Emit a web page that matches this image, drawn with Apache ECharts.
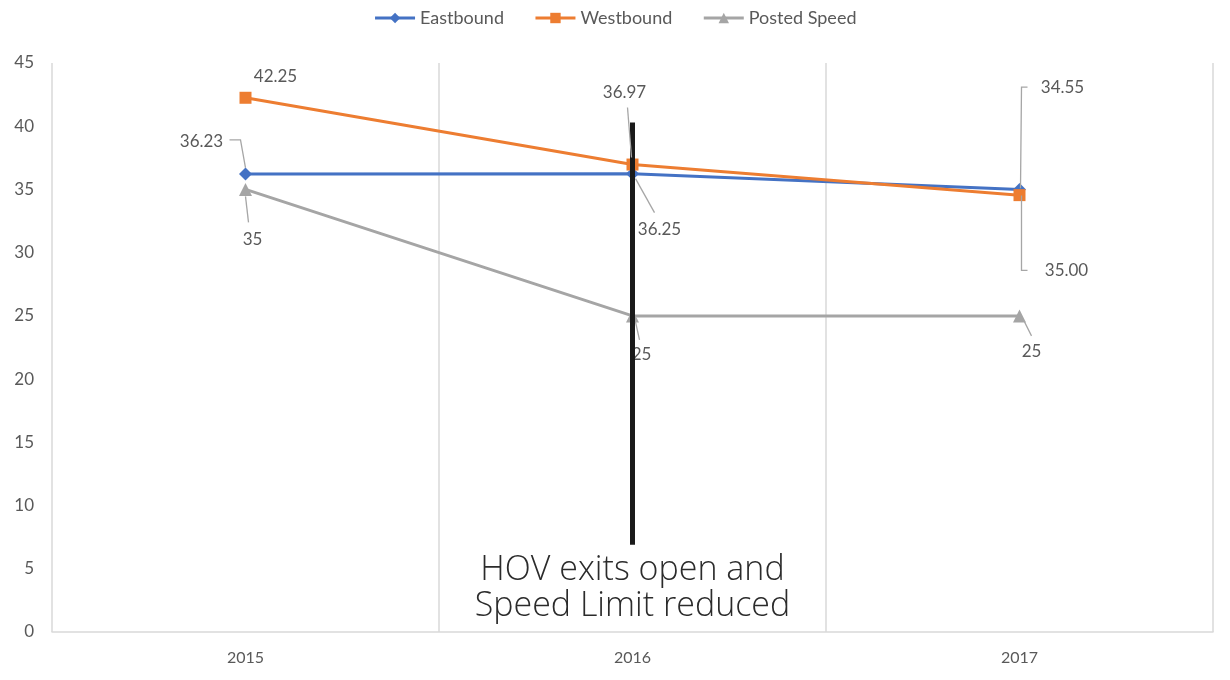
<!DOCTYPE html>
<html>
<head>
<meta charset="utf-8">
<script src="https://cdn.jsdelivr.net/npm/echarts@6/dist/echarts.min.js"></script>
<style>
  html, body { margin: 0; padding: 0; background: #fff; }
  #chart { width: 1230px; height: 680px; }
</style>
</head>
<body>
<div id="chart"></div>
<script>
// Average speeds by year and direction, with the posted speed limit
const years = ['2015', '2016', '2017'];
const eastbound = [36.23, 36.25, 35.00];
const westbound = [42.25, 36.97, 34.55];
const postedSpeed = [35, 25, 25];
const yTicks = { min: 0, max: 45, interval: 5 };

// Event marker: vertical bar at 2016 and its caption
const eventYear = '2016';
const eventSpan = [40.3, 6.9];
const eventText = 'HOV exits open and\nSpeed Limit reduced';

// Label displacement from each point (pixels)
const eastOffsets = [[-44, -32], [27, 56], [47, 81]];
const westOffsets = [[30, -21], [-8, -72], [43, -108]];
const postedOffsets = [[7, 50], [9, 39], [12, 36]];

// Leader-line paths, as pixel steps relative to each point (empty = no leader)
const eastLeaders = [
  [[-16, -34], [-5, -34], [0, -6]],
  [[3, 5], [22, 39]],
  [[2, 6], [2, 81], [8, 81]]
];
const westLeaders = [
  [],
  [[-5, -57], [-1, -7]],
  [[8, -108], [2, -108], [1, -7]]
];
const postedLeaders = [
  [[3, 33], [0, 7]],
  [[3, 6], [7, 24]],
  [[5, 6], [12, 20]]
];

const labelColor = '#595959';
const fontFamily = 'Lato, "Open Sans", sans-serif';

function buildData(values, offsets, decimals) {
  return values.map((v, i) => ({
    value: v,
    label: {
      show: true,
      position: 'inside',
      offset: [offsets[i][0], offsets[i][1]],
      formatter: () => decimals ? v.toFixed(decimals) : String(v),
      color: labelColor,
      fontSize: 17,
      fontFamily: fontFamily
    }
  }));
}

function lineSeries(name, values, offsets, decimals, color, symbol, size) {
  return {
    name: name,
    type: 'line',
    data: buildData(values, offsets, decimals),
    symbol: symbol,
    symbolSize: size,
    showSymbol: true,
    lineStyle: { color: color, width: 3 },
    itemStyle: { color: color },
    emphasis: { disabled: true },
    animation: false,
    z: 2
  };
}

const chart = echarts.init(document.getElementById('chart'), null, { renderer: 'canvas' });

chart.setOption({
  backgroundColor: '#ffffff',
  animation: false,
  legend: {
    data: ['Eastbound', 'Westbound', 'Posted Speed'],
    top: 4,
    left: 'center',
    itemWidth: 40,
    itemHeight: 13,
    itemGap: 30,
    lineStyle: { width: 3 },
    textStyle: { color: labelColor, fontSize: 18, fontFamily: fontFamily }
  },
  grid: { left: 52, right: 17, top: 63, bottom: 48 },
  xAxis: {
    type: 'category',
    data: years,
    boundaryGap: true,
    axisLine: { show: true, lineStyle: { color: '#d9d9d9', width: 1.5 } },
    axisTick: { show: false },
    splitLine: { show: true, lineStyle: { color: '#d9d9d9', width: 1.5 } },
    axisLabel: {
      color: labelColor,
      fontSize: 16,
      fontFamily: fontFamily,
      margin: 18
    }
  },
  yAxis: {
    type: 'value',
    min: yTicks.min,
    max: yTicks.max,
    interval: yTicks.interval,
    axisLine: { show: false },
    axisTick: { show: false },
    splitLine: { show: false },
    axisLabel: {
      color: labelColor,
      fontSize: 17,
      fontFamily: fontFamily,
      margin: 18
    }
  },
  series: [
    lineSeries('Eastbound', eastbound, eastOffsets, 2, '#4472c4', 'diamond', 13),
    lineSeries('Westbound', westbound, westOffsets, 2, '#ed7d31', 'rect', 12),
    lineSeries('Posted Speed', postedSpeed, postedOffsets, 0, '#a5a5a5', 'triangle', 13),
    {
      name: 'event',
      type: 'line',
      data: [],
      z: 10,
      markLine: {
        silent: true,
        symbol: ['none', 'none'],
        animation: false,
        lineStyle: { color: '#1a1a1a', width: 5, type: 'solid' },
        label: {
          show: true,
          position: 'end',
          distance: 8,
          formatter: eventText,
          color: '#2b2b2b',
          fontSize: 34,
          lineHeight: 36,
          fontFamily: '"Open Sans", sans-serif',
          fontWeight: 300
        },
        data: [[
          { coord: [eventYear, eventSpan[0]] },
          { coord: [eventYear, eventSpan[1]] }
        ]]
      }
    }
  ]
});

// Leader lines from each point to its label, placed from the data through the grid
function leaderGraphics(values, leaders) {
  const out = [];
  values.forEach((v, i) => {
    const steps = leaders[i];
    if (!steps || steps.length < 2) return;
    const p = chart.convertToPixel({ gridIndex: 0 }, [years[i], v]);
    out.push({
      type: 'polyline',
      silent: true,
      z: 5,
      shape: { points: steps.map(s => [p[0] + s[0], p[1] + s[1]]) },
      style: { stroke: '#a6a6a6', lineWidth: 1.3, fill: null }
    });
  });
  return out;
}

chart.setOption({
  graphic: [].concat(
    leaderGraphics(eastbound, eastLeaders),
    leaderGraphics(westbound, westLeaders),
    leaderGraphics(postedSpeed, postedLeaders)
  )
});
</script>
</body>
</html>
